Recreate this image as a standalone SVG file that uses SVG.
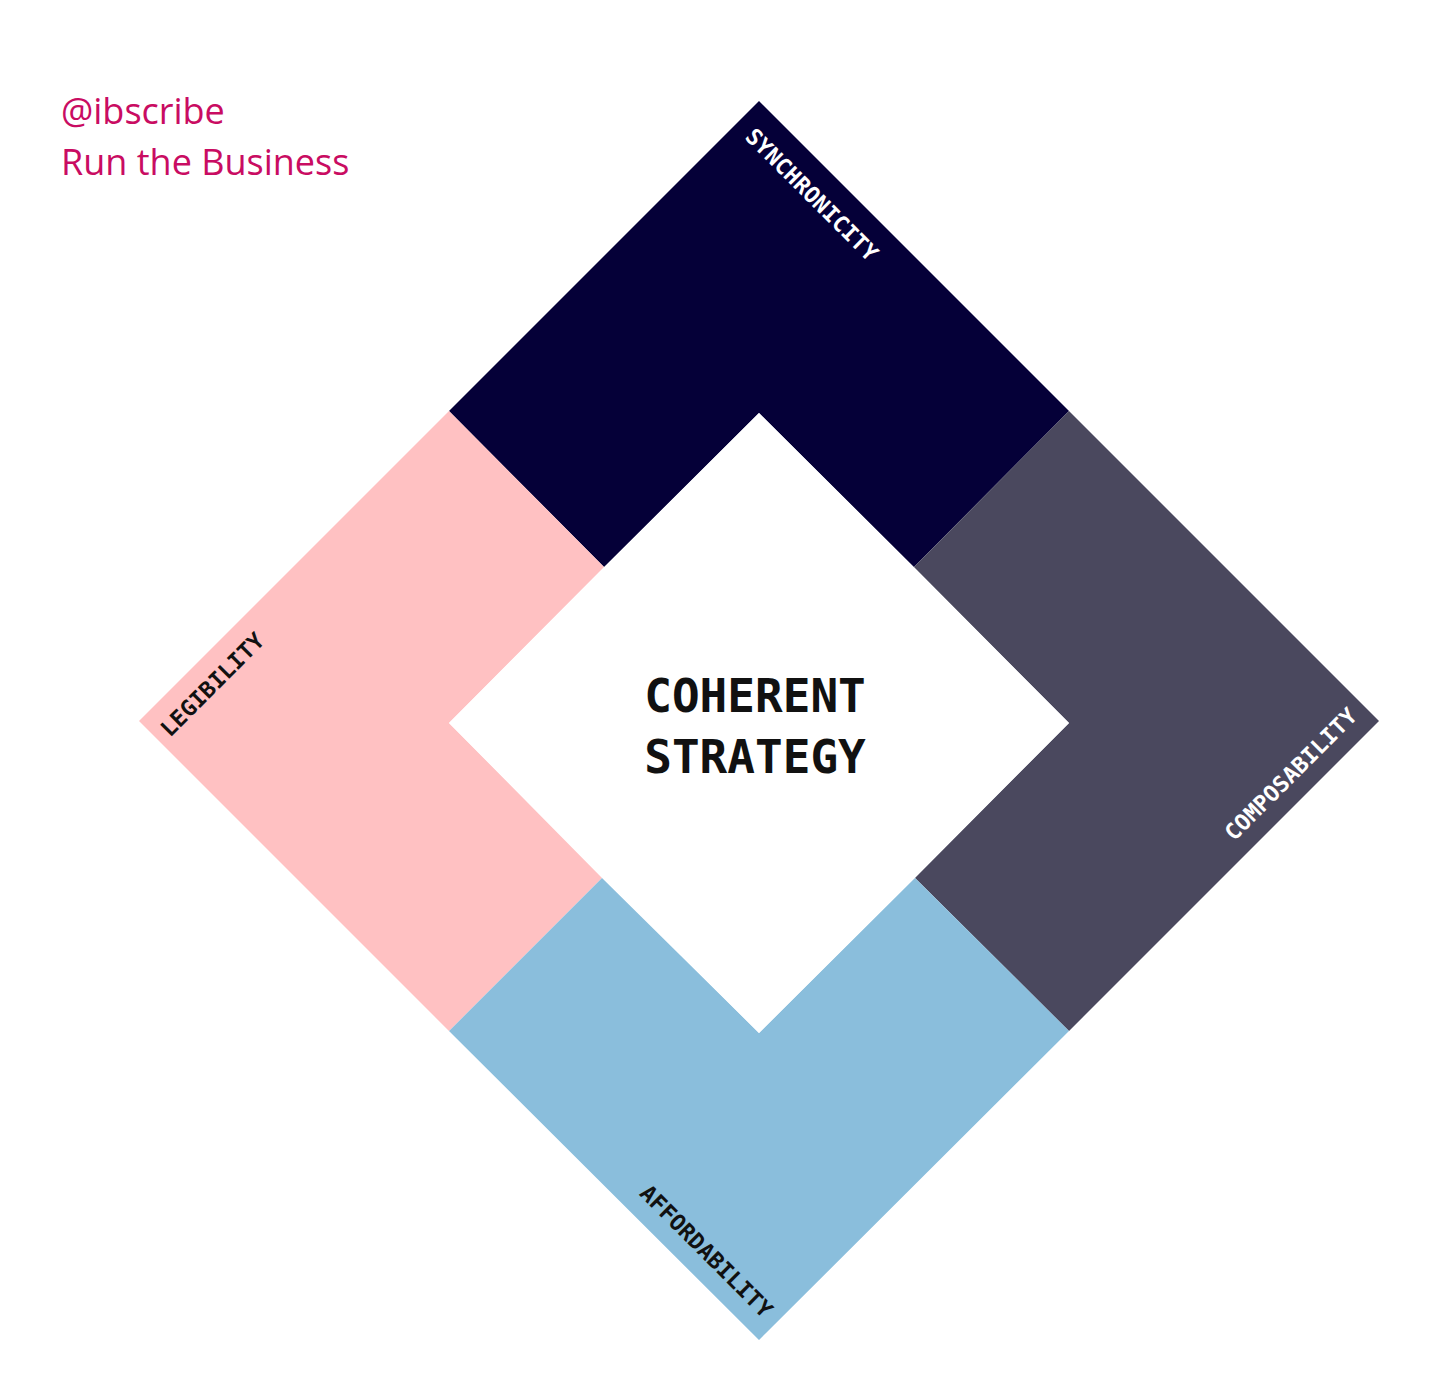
<svg xmlns="http://www.w3.org/2000/svg" width="1456" height="1394" viewBox="0 0 1456 1394">
  <style>
    .brand { font-family: "Open Sans", "Noto Sans", "Liberation Sans", sans-serif; font-size: 36px; fill: #c90c62; }
    .lbl { font-family: "DejaVu Sans Mono", "Liberation Mono", monospace; font-weight: bold; font-size: 22.5px; }
    .light { fill: #ffffff; }
    .dark { fill: #111111; }
    .center { font-family: "DejaVu Sans Mono", "Liberation Mono", monospace; font-weight: bold; font-size: 46px; fill: #111111; text-anchor: middle; }
  </style>
  <rect width="1456" height="1394" fill="#ffffff"/>

  <g id="brand">
    <text class="brand" x="61" y="124">@ibscribe</text>
    <text class="brand" x="61" y="175">Run the Business</text>
  </g>

  <g id="synchronicity">
    <polygon points="759,101 1069,411 914,567 759,413 604,567 449,411" fill="#050038"/>
    <text class="lbl light" transform="translate(744,138) rotate(45)">SYNCHRONICITY</text>
  </g>

  <g id="composability">
    <polygon points="1069,411 1379,721 1069,1031 915,878 1069,723 914,567" fill="#4a485e"/>
    <text class="lbl light" text-anchor="end" transform="translate(1358.5,717.5) rotate(-45)">COMPOSABILITY</text>
  </g>

  <g id="legibility">
    <polygon points="449,411 604,567 449,723 602,878 449,1031 139,721" fill="#ffc1c2"/>
    <text class="lbl dark" transform="translate(170,738) rotate(-45)">LEGIBILITY</text>
  </g>

  <g id="affordability">
    <polygon points="449,1031 602,878 759,1033 915,878 1069,1031 759,1340" fill="#8abedc"/>
    <text class="lbl dark" text-anchor="end" transform="translate(763,1319) rotate(45)">AFFORDABILITY</text>
  </g>

  <g id="coherent-strategy">
    <polygon points="759,413 1069,723 759,1033 449,723" fill="#ffffff"/>
    <text class="center" x="755" y="712">COHERENT</text>
    <text class="center" x="755" y="773">STRATEGY</text>
  </g>

  <g id="connectors"></g>
</svg>
